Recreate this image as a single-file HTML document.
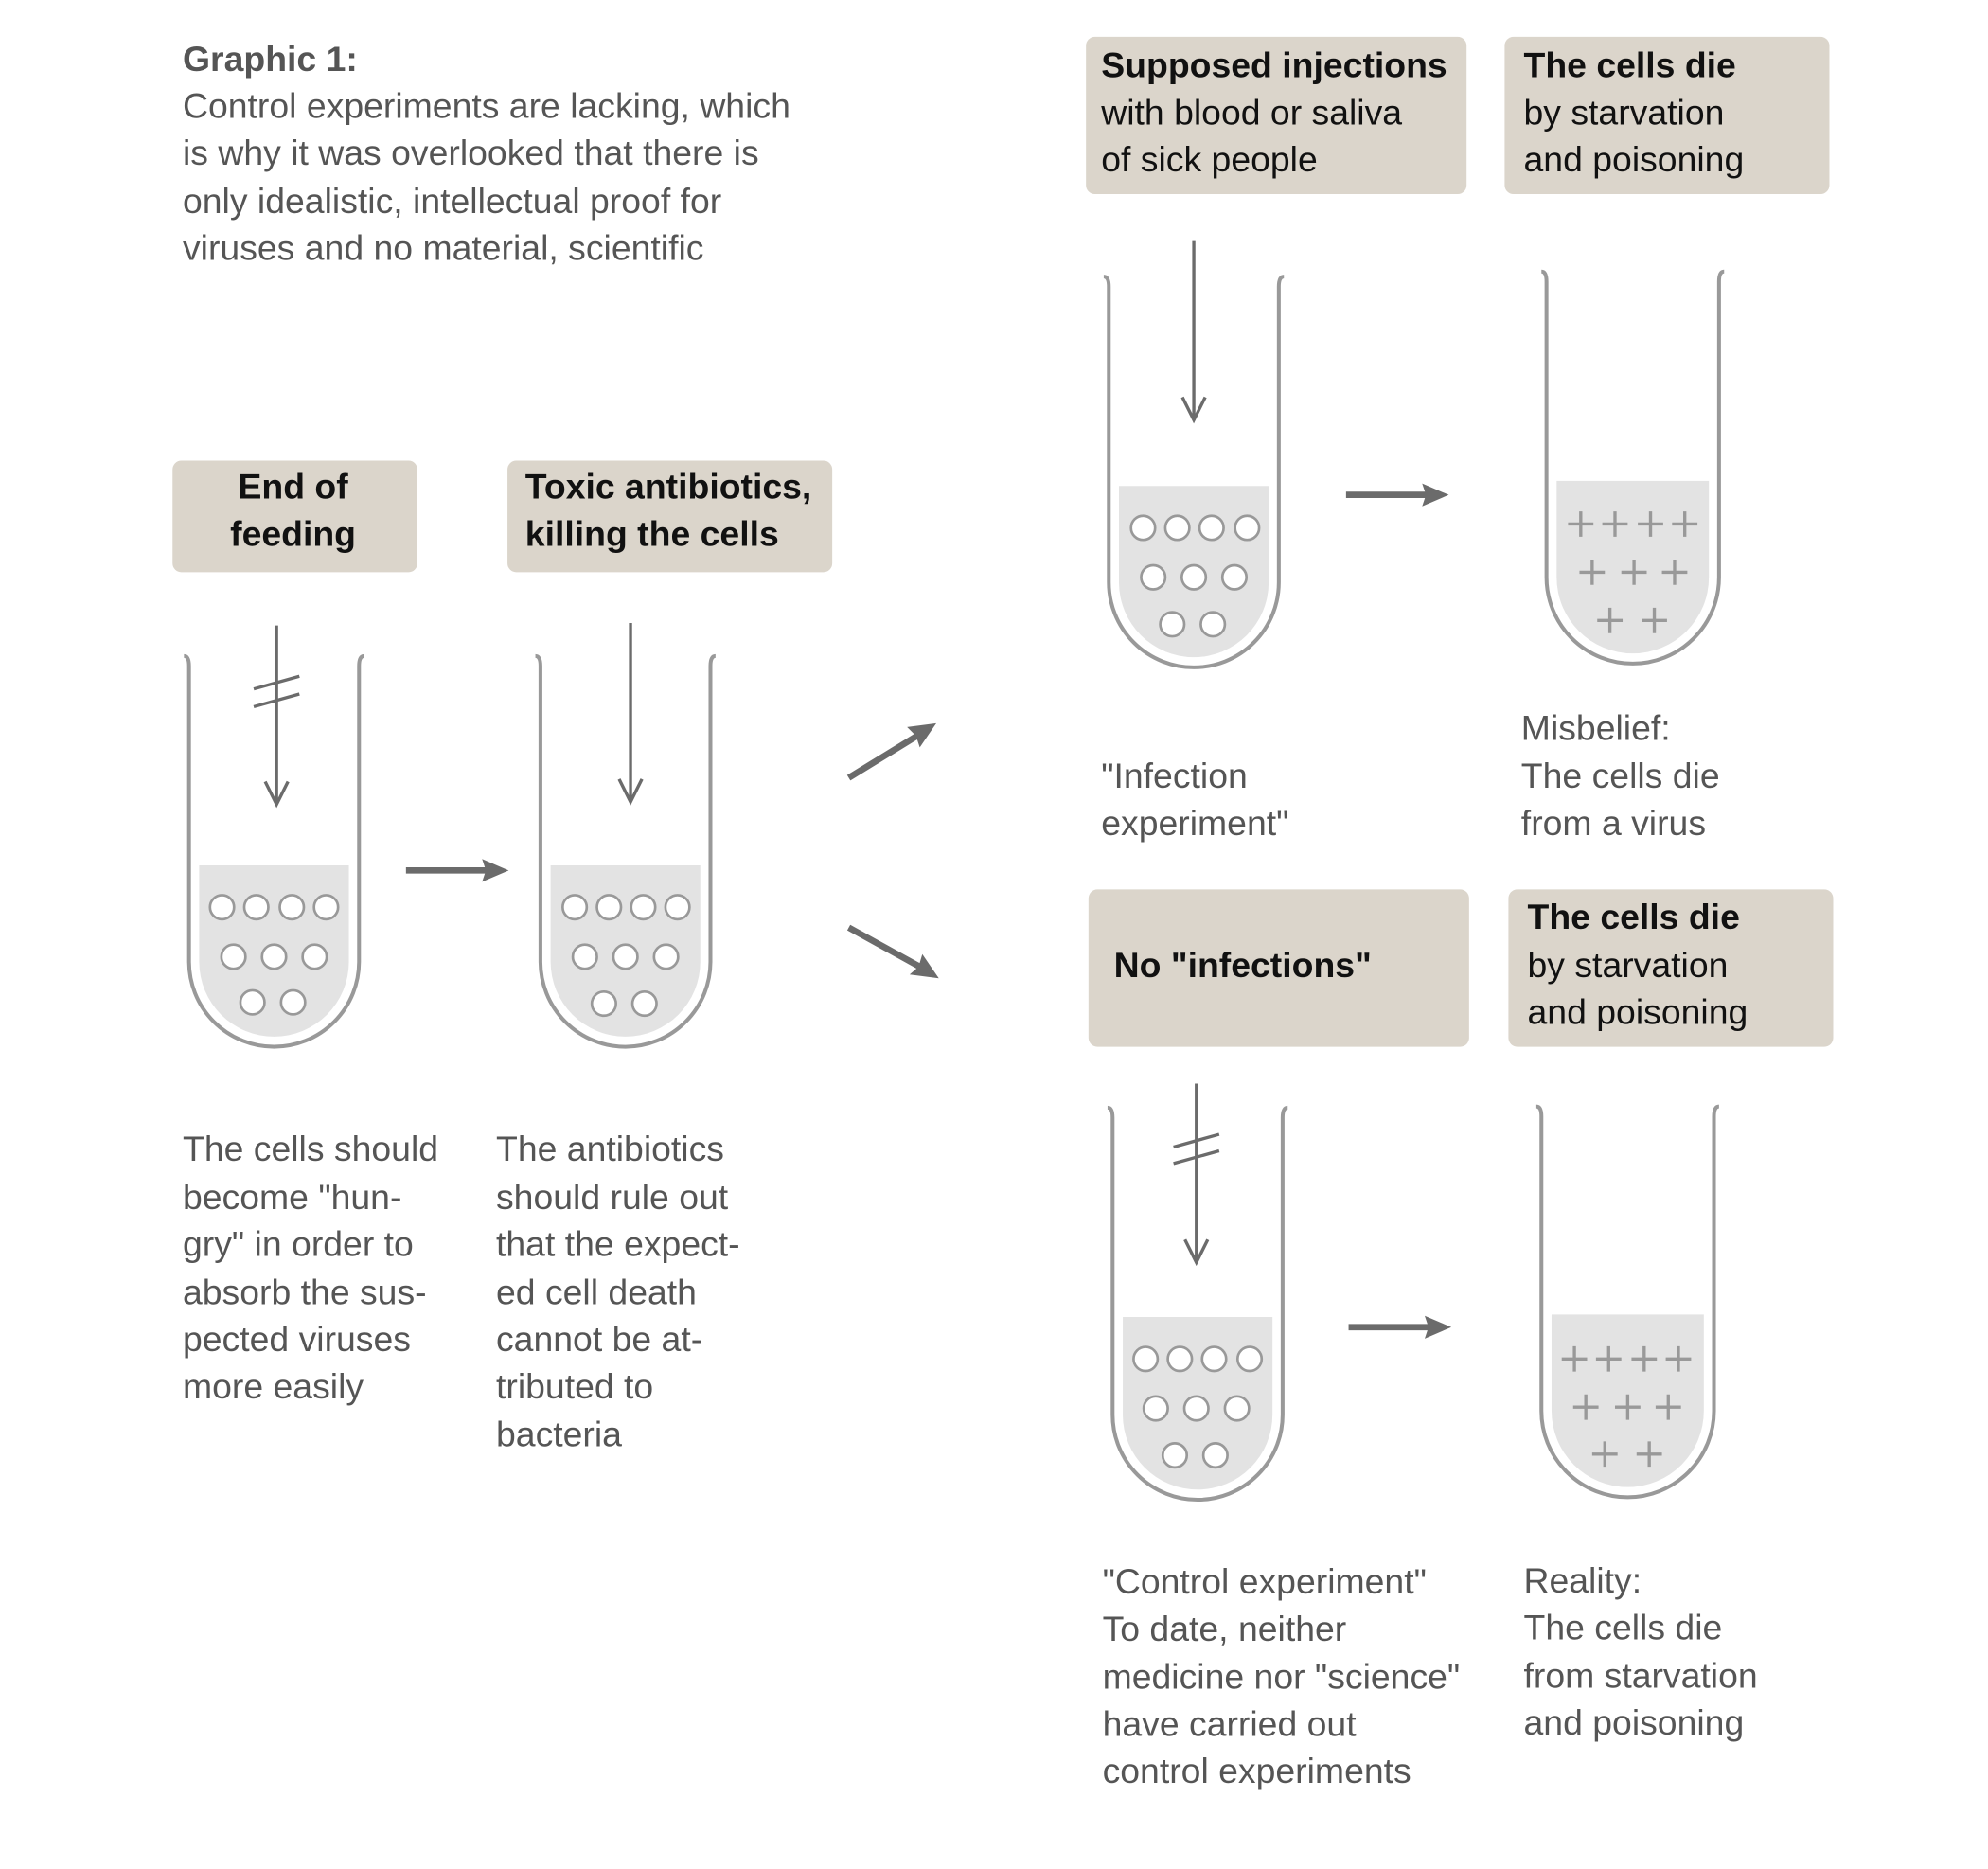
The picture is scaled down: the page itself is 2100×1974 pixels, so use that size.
<!DOCTYPE html>
<html><head><meta charset="utf-8"><style>
html,body{margin:0;padding:0;background:#fff}
svg{display:block}
text{font-family:"Liberation Sans",Arial,sans-serif;font-size:27.9px}
.g{fill:#555}
.k{fill:#111}
.b{font-weight:bold}
</style></head><body>
<svg width="2100" height="1974" viewBox="0 0 1567 1473" xmlns="http://www.w3.org/2000/svg">
<!-- title -->
<text class="g b" x="144" y="56">Graphic 1:</text>
<text class="g" x="144" y="93">Control experiments are lacking, which</text>
<text class="g" x="144" y="130">is why it was overlooked that there is</text>
<text class="g" x="144" y="168">only idealistic, intellectual proof for</text>
<text class="g" x="144" y="205">viruses and no material, scientific</text>

<!-- boxes -->
<g fill="#dbd5cb">
<rect x="136" y="363" width="193" height="88" rx="7"/>
<rect x="400" y="363" width="256" height="88" rx="7"/>
<rect x="856" y="29" width="300" height="124" rx="7"/>
<rect x="1186" y="29" width="256" height="124" rx="7"/>
<rect x="858" y="701" width="300" height="124" rx="7"/>
<rect x="1189" y="701" width="256" height="124" rx="7"/>
</g>
<text class="k b" x="231" y="393" text-anchor="middle">End of</text>
<text class="k b" x="231" y="430" text-anchor="middle">feeding</text>
<text class="k b" x="414" y="393">Toxic antibiotics,</text>
<text class="k b" x="414" y="430">killing the cells</text>
<text class="k b" x="868" y="61">Supposed injections</text>
<text class="k" x="868" y="98">with blood or saliva</text>
<text class="k" x="868" y="135">of sick people</text>
<text class="k b" x="1201" y="61">The cells die</text>
<text class="k" x="1201" y="98">by starvation</text>
<text class="k" x="1201" y="135">and poisoning</text>
<text class="k b" x="878" y="770">No "infections"</text>
<text class="k b" x="1204" y="732">The cells die</text>
<text class="k" x="1204" y="770">by starvation</text>
<text class="k" x="1204" y="807">and poisoning</text>

<!-- tubes -->
<g fill="none" stroke="#999" stroke-width="3">
<path d="M145,517 Q149,517 149,525 V758 A67,67 0 0 0 283,758 V525 Q283,517 287,517"/>
<path d="M422,517 Q426,517 426,525 V758 A67,67 0 0 0 560,758 V525 Q560,517 564,517"/>
<path d="M870,218 Q874,218 874,226 V459 A67,67 0 0 0 1008,459 V226 Q1008,218 1012,218"/>
<path d="M1215,214 Q1219,214 1219,222 V455 A67,67 0 0 0 1355,455 V222 Q1355,214 1359,214"/>
<path d="M873,873 Q877,873 877,881 V1115 A67,67 0 0 0 1011,1115 V881 Q1011,873 1015,873"/>
<path d="M1211,872 Q1215,872 1215,880 V1112 A67,67 0 0 0 1351,1112 V880 Q1351,872 1355,872"/>
</g>
<g fill="#e3e3e3">
<path d="M157,682 H275 V758 A59,59 0 0 1 157,758 Z"/>
<path d="M434,682 H552 V758 A59,59 0 0 1 434,758 Z"/>
<path d="M882,383 H1000 V459 A59,59 0 0 1 882,459 Z"/>
<path d="M1227,379 H1347 V455 A60,60 0 0 1 1227,455 Z"/>
<path d="M885,1038 H1003 V1115 A59,59 0 0 1 885,1115 Z"/>
<path d="M1223,1036 H1343 V1112 A60,60 0 0 1 1223,1112 Z"/>
</g>
<!-- circles -->
<g fill="#fff" stroke="#999" stroke-width="2">
<circle cx="175" cy="715" r="9.5"/><circle cx="202" cy="715" r="9.5"/><circle cx="230" cy="715" r="9.5"/><circle cx="257" cy="715" r="9.5"/>
<circle cx="184" cy="754" r="9.5"/><circle cx="216" cy="754" r="9.5"/><circle cx="248" cy="754" r="9.5"/>
<circle cx="199" cy="790" r="9.5"/><circle cx="231" cy="790" r="9.5"/>
<circle cx="453" cy="715" r="9.5"/><circle cx="480" cy="715" r="9.5"/><circle cx="507" cy="715" r="9.5"/><circle cx="534" cy="715" r="9.5"/>
<circle cx="461" cy="754" r="9.5"/><circle cx="493" cy="754" r="9.5"/><circle cx="525" cy="754" r="9.5"/>
<circle cx="476" cy="791" r="9.5"/><circle cx="508" cy="791" r="9.5"/>
<circle cx="901" cy="416" r="9.5"/><circle cx="928" cy="416" r="9.5"/><circle cx="955" cy="416" r="9.5"/><circle cx="983" cy="416" r="9.5"/>
<circle cx="909" cy="455" r="9.5"/><circle cx="941" cy="455" r="9.5"/><circle cx="973" cy="455" r="9.5"/>
<circle cx="924" cy="492" r="9.5"/><circle cx="956" cy="492" r="9.5"/>
<circle cx="903" cy="1071" r="9.5"/><circle cx="930" cy="1071" r="9.5"/><circle cx="957" cy="1071" r="9.5"/><circle cx="985" cy="1071" r="9.5"/>
<circle cx="911" cy="1110" r="9.5"/><circle cx="943" cy="1110" r="9.5"/><circle cx="975" cy="1110" r="9.5"/>
<circle cx="926" cy="1147" r="9.5"/><circle cx="958" cy="1147" r="9.5"/>
</g>
<!-- plus signs -->
<g stroke="#999" stroke-width="2.5">
<path d="M1236,413h20M1246,403v20 M1263,413h20M1273,403v20 M1291,413h20M1301,403v20 M1318,413h20M1328,403v20
M1245,451h20M1255,441v20 M1278,451h20M1288,441v20 M1310,451h20M1320,441v20
M1259,489h20M1269,479v20 M1294,489h20M1304,479v20"/>
<path d="M1231,1071h20M1241,1061v20 M1258,1071h20M1268,1061v20 M1286,1071h20M1296,1061v20 M1313,1071h20M1323,1061v20
M1240,1109h20M1250,1099v20 M1273,1109h20M1283,1099v20 M1305,1109h20M1315,1099v20
M1255,1146h20M1265,1136v20 M1290,1146h20M1300,1136v20"/>
</g>

<!-- vertical arrows -->
<g stroke="#6b6b6b" stroke-width="2.5" fill="none">
<path d="M218,493 V634 M209,616 L218,634 L227,616"/>
<path d="M200,543 L236,533 M200,557 L236,547"/>
<path d="M497,491 V632 M488,614 L497,632 L506,614"/>
<path d="M941,190 V331 M932,313 L941,331 L950,313"/>
<path d="M943,854 V995 M934,977 L943,995 L952,977"/>
<path d="M925,904 L961,894 M925,917 L961,907"/>
</g>
<!-- thick arrows -->
<g stroke="#6b6b6b" stroke-width="5" fill="#6b6b6b">
<path d="M320,686 H385"/>
<path d="M1061,390 H1126"/>
<path d="M1063,1046 H1128"/>
<path d="M669,613 L726,578"/>
<path d="M669,731 L727,763"/>
</g>
<g fill="#6b6b6b">
<path d="M401,686 L380,677 L383,686 L380,695 Z"/>
<path d="M1142,390 L1121,381 L1124,390 L1121,399 Z"/>
<path d="M1144,1046 L1123,1037 L1126,1046 L1123,1055 Z"/>
<path d="M738,570 L715,573 L722,580 L725,589 Z"/>
<path d="M740,771 L727,752 L724,762 L717,768 Z"/>
</g>

<!-- descriptions -->
<text class="g" x="144" y="915">The cells should</text>
<text class="g" x="144" y="953">become "hun-</text>
<text class="g" x="144" y="990">gry" in order to</text>
<text class="g" x="144" y="1028">absorb the sus-</text>
<text class="g" x="144" y="1065">pected viruses</text>
<text class="g" x="144" y="1102">more easily</text>
<text class="g" x="391" y="915">The antibiotics</text>
<text class="g" x="391" y="953">should rule out</text>
<text class="g" x="391" y="990">that the expect-</text>
<text class="g" x="391" y="1028">ed cell death</text>
<text class="g" x="391" y="1065">cannot be at-</text>
<text class="g" x="391" y="1102">tributed to</text>
<text class="g" x="391" y="1140">bacteria</text>
<text class="g" x="868" y="621">"Infection</text>
<text class="g" x="868" y="658">experiment"</text>
<text class="g" x="1199" y="583">Misbelief:</text>
<text class="g" x="1199" y="621">The cells die</text>
<text class="g" x="1199" y="658">from a virus</text>
<text class="g" x="869" y="1256">"Control experiment"</text>
<text class="g" x="869" y="1293">To date, neither</text>
<text class="g" x="869" y="1331">medicine nor "science"</text>
<text class="g" x="869" y="1368">have carried out</text>
<text class="g" x="869" y="1405">control experiments</text>
<text class="g" x="1201" y="1255">Reality:</text>
<text class="g" x="1201" y="1292">The cells die</text>
<text class="g" x="1201" y="1330">from starvation</text>
<text class="g" x="1201" y="1367">and poisoning</text>
</svg>
</body></html>
